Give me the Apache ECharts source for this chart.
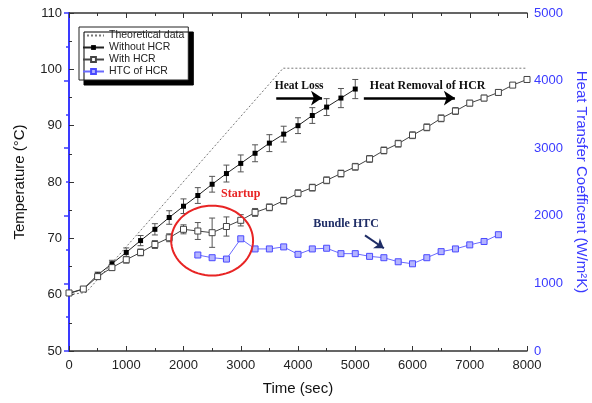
<!DOCTYPE html>
<html lang="en">
<head>
    <meta charset="utf-8">
    <title>Temperature / HTC</title>
    <script type="text/javascript" src="https://cdn.jsdelivr.net/npm/echarts@6/dist/echarts.min.js"></script>
    <style>
        html, body { margin: 0; padding: 0; background: #fff; }
        #chart { width: 592px; height: 403px; }
    </style>
</head>
<body>
<div id="chart"></div>
<script type="text/javascript">
    // 数据
    var theoTime = [0, 300, 3740, 8000];
    var theoTemp = [60, 60.4, 100.2, 100.2];

    var timeWithout = [0, 250, 500, 750, 1000, 1250, 1500, 1750, 2000, 2250, 2500, 2750, 3000,
        3250, 3500, 3750, 4000, 4250, 4500, 4750, 5000];
    var tempWithout = [60.2, 61.0, 63.5, 65.5, 67.5, 69.6, 71.6, 73.7, 75.7, 77.6, 79.6, 81.5, 83.3,
        85.1, 86.9, 88.5, 90.0, 91.8, 93.3, 94.9, 96.5];
    var errWithout = [0.3, 0.3, 0.5, 0.6, 0.8, 0.9, 1.0, 1.2, 1.3, 1.4, 1.4, 1.5, 1.5,
        1.5, 1.5, 1.4, 1.4, 1.4, 1.5, 1.7, 1.7];

    var timeWith = [0, 250, 500, 750, 1000, 1250, 1500, 1750, 2000, 2250, 2500, 2750, 3000,
        3250, 3500, 3750, 4000, 4250, 4500, 4750, 5000, 5250, 5500, 5750, 6000, 6250, 6500,
        6750, 7000, 7250, 7500, 7750, 8000];
    var tempWith = [60.3, 61.0, 63.2, 64.8, 66.2, 67.5, 68.9, 70.1, 71.6, 71.3, 71.0, 72.1, 73.2,
        74.6, 75.5, 76.7, 78.0, 79.0, 80.3, 81.5, 82.7, 84.1, 85.6, 86.8, 88.3, 89.7, 91.3,
        92.6, 94.0, 94.9, 95.9, 97.2, 98.2];
    var errWith = [0.3, 0.3, 0.4, 0.5, 0.6, 0.6, 0.7, 0.7, 0.8, 1.5, 2.6, 1.7, 1.0,
        0.7, 0.6, 0.6, 0.6, 0.6, 0.6, 0.6, 0.6, 0.6, 0.6, 0.6, 0.6, 0.6, 0.6,
        0.6, 0.5, 0.5, 0.5, 0.4, 0.3];

    var timeHtc = [2250, 2500, 2750, 3000, 3250, 3500, 3750, 4000, 4250, 4500, 4750, 5000,
        5250, 5500, 5750, 6000, 6250, 6500, 6750, 7000, 7250, 7500];
    var htcValues = [1420, 1380, 1360, 1660, 1510, 1510, 1540, 1430, 1510, 1520, 1440, 1440,
        1400, 1380, 1320, 1290, 1380, 1470, 1510, 1570, 1620, 1720];

    var xTicks = [0, 8000, 1000];
    var yTicks = [50, 110, 10];
    var y2Ticks = [0, 5000, 1000];

    function pairs(xs, ys) {
        return xs.map(function (x, i) { return [x, ys[i]]; });
    }
    function errData(xs, ys, es) {
        return xs.map(function (x, i) { return [x, ys[i] - es[i], ys[i] + es[i]]; });
    }
    function plain(v) { return String(v); }

    var fontSans = 'Liberation Sans, Arial, sans-serif';
    var fontSerif = 'Liberation Serif, Times New Roman, serif';
    var blue = '#3a3aff';

    function errRender(params, api) {
        var x = api.value(0);
        var lo = api.coord([x, api.value(1)]);
        var hi = api.coord([x, api.value(2)]);
        var w = 3;
        var st = { stroke: '#555', lineWidth: 1 };
        return {
            type: 'group',
            children: [
                { type: 'line', shape: { x1: lo[0], y1: lo[1], x2: hi[0], y2: hi[1] }, style: st },
                { type: 'line', shape: { x1: lo[0] - w, y1: lo[1], x2: lo[0] + w, y2: lo[1] }, style: st },
                { type: 'line', shape: { x1: hi[0] - w, y1: hi[1], x2: hi[0] + w, y2: hi[1] }, style: st }
            ]
        };
    }

    // 红色椭圆 (startup区域)
    function ellipseRender(params, api) {
        var c = api.coord([api.value(0), api.value(1)]);
        var s = api.size([api.value(2), api.value(3)]);
        var pts = [];
        for (var k = 0; k < 72; k++) {
            var a = k / 72 * Math.PI * 2;
            pts.push([c[0] + s[0] * Math.cos(a), c[1] + s[1] * Math.sin(a)]);
        }
        return {
            type: 'polygon',
            shape: { points: pts },
            style: { fill: 'none', stroke: '#e82424', lineWidth: 2 }
        };
    }

    var tickStyle = { color: '#333', width: 1 };
    var chart = echarts.init(document.getElementById('chart'), null, { renderer: 'canvas' });

    var option = {
        animation: false,
        backgroundColor: '#fff',
        grid: { left: 69, right: 65, top: 13, bottom: 52, outerBoundsMode: 'none', containLabel: false },
        legend: {
            orient: 'vertical',
            left: 79,
            top: 27,
            data: ['Theoretical data', 'Without HCR', 'With HCR', 'HTC of HCR'],
            backgroundColor: '#fff',
            borderColor: '#222',
            borderWidth: 1,
            borderRadius: 0,
            shadowColor: '#000',
            shadowBlur: 0,
            shadowOffsetX: 5,
            shadowOffsetY: 5,
            padding: [3, 4, 3, 3],
            itemGap: 1,
            itemWidth: 21,
            itemHeight: 6,
            textStyle: { fontSize: 10.5, fontFamily: fontSans, color: '#222' }
        },
        xAxis: [{
            type: 'value', min: xTicks[0], max: xTicks[1], interval: xTicks[2], position: 'bottom',
            name: 'Time (sec)', nameLocation: 'middle', nameGap: 30,
            nameTextStyle: { fontSize: 15, fontFamily: fontSans, color: '#111' },
            axisLine: { show: true, lineStyle: { color: '#333', width: 1.5 } },
            axisTick: { show: true, inside: true, length: 5, lineStyle: tickStyle },
            minorTick: { show: true, splitNumber: 2, length: 3, lineStyle: tickStyle },
            splitLine: { show: false },
            axisLabel: { fontSize: 13, fontFamily: fontSans, color: '#222', margin: 8, formatter: plain }
        }, {
            type: 'value', min: xTicks[0], max: xTicks[1], interval: xTicks[2], position: 'top',
            axisLine: { show: true, lineStyle: { color: '#333', width: 1.5 } },
            axisTick: { show: true, inside: true, length: 5, lineStyle: tickStyle },
            minorTick: { show: true, splitNumber: 2, length: 3, lineStyle: tickStyle },
            splitLine: { show: false },
            axisLabel: { show: false }
        }],
        yAxis: [{
            type: 'value', min: yTicks[0], max: yTicks[1], interval: yTicks[2], position: 'left',
            name: 'Temperature (\u00B0C)', nameLocation: 'middle', nameGap: 42,
            nameTextStyle: { fontSize: 15, fontFamily: fontSans, color: '#111' },
            axisLine: { show: true, lineStyle: { color: '#333', width: 1.5 } },
            axisTick: { show: true, inside: true, length: 5, lineStyle: tickStyle },
            minorTick: { show: true, splitNumber: 2, length: 3, lineStyle: tickStyle },
            splitLine: { show: false },
            axisLabel: { fontSize: 13, fontFamily: fontSans, color: '#222', margin: 7, formatter: plain }
        }, {
            type: 'value', min: y2Ticks[0], max: y2Ticks[1], interval: y2Ticks[2], position: 'right',
            name: 'Heat Transfer Coefficent (W/m\u00B2K)', nameLocation: 'middle', nameGap: 33,
            nameRotate: -90,
            nameTextStyle: { fontSize: 15, fontFamily: fontSans, color: blue },
            axisLine: { show: true, lineStyle: { color: blue, width: 2 } },
            axisTick: { show: true, inside: true, length: 5, lineStyle: { color: blue, width: 1.5 } },
            minorTick: { show: true, splitNumber: 2, length: 3, lineStyle: { color: blue, width: 1.5 } },
            splitLine: { show: false },
            axisLabel: { fontSize: 13, fontFamily: fontSans, color: blue, margin: 7, formatter: plain }
        }],
        series: [
            {
                name: 'Theoretical data',
                type: 'line',
                data: pairs(theoTime, theoTemp),
                symbol: 'none',
                itemStyle: { color: 'rgba(0,0,0,0)' },
                lineStyle: { color: '#777', width: 1, type: [2, 2] },
                z: 1
            },
            {
                name: 'err-without',
                type: 'custom',
                renderItem: errRender,
                encode: { x: 0, y: [1, 2] },
                data: errData(timeWithout, tempWithout, errWithout),
                z: 2
            },
            {
                name: 'err-with',
                type: 'custom',
                renderItem: errRender,
                encode: { x: 0, y: [1, 2] },
                data: errData(timeWith, tempWith, errWith),
                z: 2
            },
            {
                name: 'Without HCR',
                type: 'line',
                data: pairs(timeWithout, tempWithout),
                symbol: 'rect',
                symbolSize: 5,
                showAllSymbol: true,
                itemStyle: { color: '#000', borderColor: '#000', borderWidth: 0 },
                lineStyle: { color: '#222', width: 1 },
                z: 3,
                markLine: {
                    silent: true,
                    symbol: ['none', 'arrow'],
                    symbolSize: 11,
                    lineStyle: { color: '#000', width: 2.5, type: 'solid' },
                    label: {
                        show: true, position: 'insideMiddleTop', distance: 6,
                        formatter: 'Heat Loss',
                        fontFamily: fontSerif, fontWeight: 'bold', fontSize: 11.5, color: '#111'
                    },
                    data: [[{ coord: [3620, 94.9] }, { coord: [4420, 94.9] }]]
                }
            },
            {
                name: 'With HCR',
                type: 'line',
                data: pairs(timeWith, tempWith),
                symbol: 'rect',
                symbolSize: 6,
                showAllSymbol: true,
                itemStyle: { color: '#fff', borderColor: '#444', borderWidth: 1 },
                lineStyle: { color: '#444', width: 1 },
                z: 3,
                markLine: {
                    silent: true,
                    symbol: ['none', 'arrow'],
                    symbolSize: 11,
                    lineStyle: { color: '#000', width: 2.5, type: 'solid' },
                    label: {
                        show: true, position: 'insideStartTop', distance: 6,
                        formatter: 'Heat Removal of HCR',
                        fontFamily: fontSerif, fontWeight: 'bold', fontSize: 12, color: '#111'
                    },
                    data: [[{ coord: [5150, 94.9] }, { coord: [6740, 94.9] }]]
                },
                markPoint: {
                    silent: true,
                    symbol: 'circle',
                    symbolSize: 1,
                    itemStyle: { color: 'transparent' },
                    label: {
                        show: true, position: 'inside',
                        fontFamily: fontSerif, fontWeight: 'bold', fontSize: 12
                    },
                    data: [
                        { coord: [3000, 77.8], label: { formatter: 'Startup', color: '#e82424' } },
                        { coord: [4840, 72.6], label: { formatter: 'Bundle HTC', color: '#1f2d66' } }
                    ]
                }
            },
            {
                name: 'HTC of HCR',
                type: 'line',
                yAxisIndex: 1,
                data: pairs(timeHtc, htcValues),
                symbol: 'rect',
                symbolSize: 6,
                showAllSymbol: true,
                itemStyle: { color: '#b4b4ff', borderColor: '#4a4aff', borderWidth: 1 },
                lineStyle: { color: '#6a6aff', width: 1 },
                z: 4,
                markLine: {
                    silent: true,
                    symbol: ['none', 'arrow'],
                    symbolSize: 9,
                    lineStyle: { color: '#1f2d66', width: 2, type: 'solid' },
                    label: { show: false },
                    data: [[{ coord: [5170, 1710] }, { coord: [5500, 1520] }]]
                }
            },
            {
                name: 'startup-ring',
                type: 'custom',
                renderItem: ellipseRender,
                encode: { x: 0, y: 1 },
                data: [[2500, 69.6, 715, 6.2]],
                silent: true,
                z: 5
            }
        ]
    };

    chart.setOption(option);
</script>
</body>
</html>
